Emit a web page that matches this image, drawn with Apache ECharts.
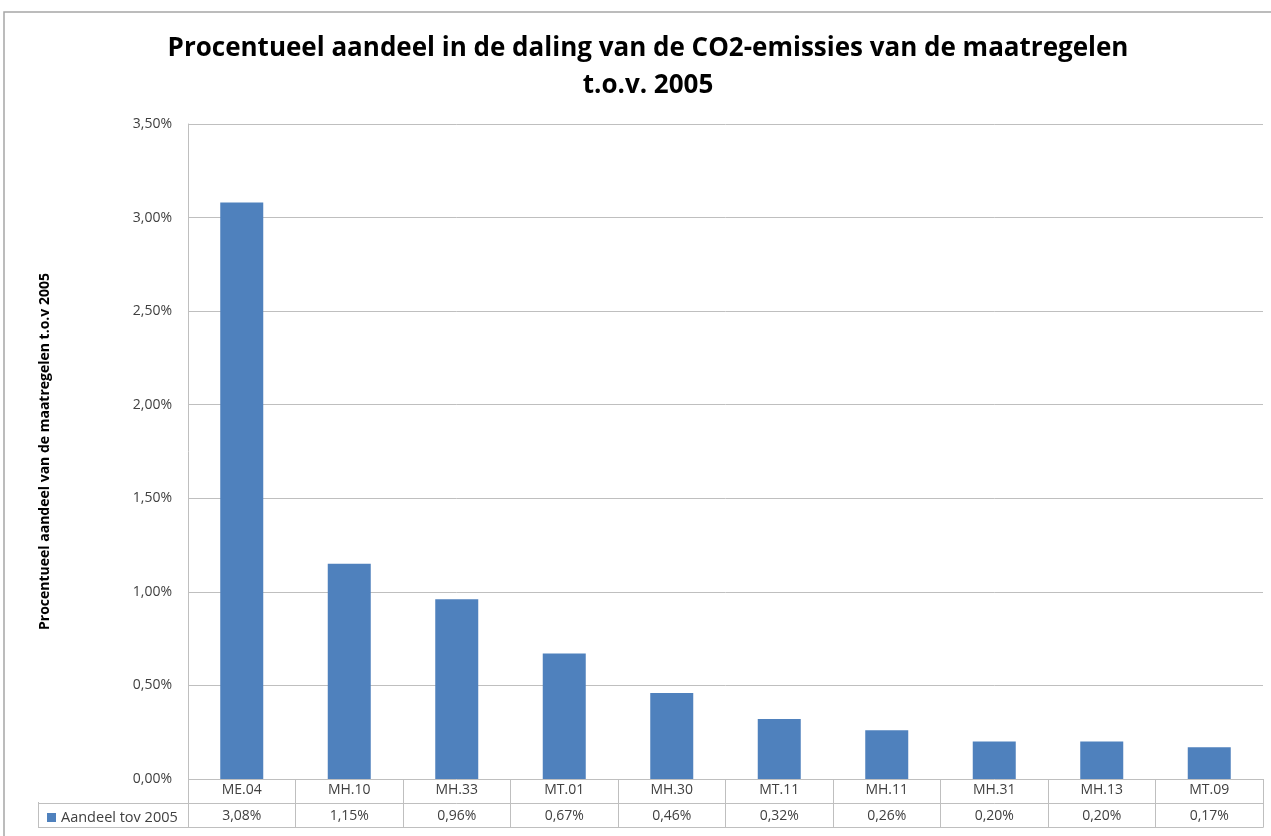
<!DOCTYPE html>
<html>
<head>
<meta charset="utf-8">
<title>Procentueel aandeel CO2</title>
<script src="https://cdn.jsdelivr.net/npm/echarts@6/dist/echarts.min.js"></script>
<style>
html,body{margin:0;padding:0;background:#fff;}
#main{width:1271px;height:836px;}
</style>
</head>
<body>
<div id="main"></div>
<script>
// maatregelen en hun aandeel (in %)
var categories = ['ME.04','MH.10','MH.33','MT.01','MH.30','MT.11','MH.11','MH.31','MH.13','MT.09'];
var aandeel = [3.08, 1.15, 0.96, 0.67, 0.46, 0.32, 0.26, 0.20, 0.20, 0.17];
var serieNaam = 'Aandeel tov 2005';
var yMax = 3.5;
var yStap = 0.5;

function pct(v){
	return v.toFixed(2).replace('.', ',') + '%';
}

var lijn = '#bfbfbf';
var tekst = '#404040';
var font = 'Open Sans';

var myChart = echarts.init(document.getElementById('main'));
var option = {
	backgroundColor: '#fff',
	animation: false,
	textStyle: { fontFamily: font },
	title: {
		text: 'Procentueel aandeel in de daling van de CO2-emissies van de maatregelen\nt.o.v. 2005',
		left: 643,
		top: 25,
		textAlign: 'center',
		textStyle: { fontFamily: font, fontSize: 26, fontWeight: 'bold', color: '#000', lineHeight: 37 }
	},
	legend: {
		data: [serieNaam],
		left: 42,
		top: 805,
		icon: 'rect',
		itemWidth: 9,
		itemHeight: 9,
		itemGap: 4,
		textStyle: { fontFamily: font, fontSize: 14.5, color: tekst }
	},
	graphic: [
		{ type: 'rect', shape: { x: 4, y: 12, width: 1300, height: 900 }, style: { fill: 'none', stroke: '#a6a6a6', lineWidth: 1.5 }, silent: true },
		{ type: 'line', shape: { x1: 38.5, y1: 802, x2: 38.5, y2: 827 }, style: { stroke: lijn, lineWidth: 1 }, silent: true }
	],
	grid: [
		{ left: 188, right: 8, top: 124, bottom: 57 },
		{ left: 188, right: 8, top: 779, height: 48 }
	],
	xAxis: [
		{
			gridIndex: 0, type: 'category', data: categories,
			axisLine: { show: false }, axisTick: { show: false }, axisLabel: { show: false }
		},
		{
			gridIndex: 1, type: 'category', data: categories, position: 'top',
			axisLine: { show: true, lineStyle: { color: lijn } },
			axisTick: { show: false },
			splitLine: { show: true, interval: 0, lineStyle: { color: lijn } },
			axisLabel: { inside: true, interval: 0, margin: 4, fontSize: 14, color: tekst, fontFamily: font }
		},
		{
			gridIndex: 1, type: 'category', data: categories, position: 'bottom',
			axisLine: { show: true, lineStyle: { color: lijn } },
			axisTick: { show: false },
			axisLabel: {
				inside: true, interval: 0, margin: 4, fontSize: 14, color: tekst, fontFamily: font,
				formatter: function (value, idx) { return pct(aandeel[idx]); }
			}
		}
	],
	yAxis: [
		{
			gridIndex: 0, type: 'value', min: 0, max: yMax, interval: yStap,
			name: 'Procentueel aandeel van de maatregelen t.o.v 2005',
			nameLocation: 'middle', nameGap: 136,
			nameTextStyle: { fontFamily: font, fontSize: 14, fontWeight: 'bold', color: '#000' },
			axisLine: { show: true, lineStyle: { color: lijn } },
			axisTick: { show: false },
			splitLine: { show: true, lineStyle: { color: lijn } },
			axisLabel: { margin: 16, fontSize: 14, color: tekst, fontFamily: font, formatter: function (v) { return pct(v); } }
		},
		{
			gridIndex: 1, type: 'value', min: 0, max: 2, interval: 1,
			axisLine: { show: false },
			axisLabel: { show: false },
			axisTick: { show: true, length: 150, customValues: [0, 1], lineStyle: { color: lijn } },
			splitLine: { show: true, lineStyle: { color: lijn } }
		}
	],
	series: [
		{
			name: serieNaam,
			type: 'bar',
			xAxisIndex: 0,
			yAxisIndex: 0,
			barWidth: '40%',
			itemStyle: { color: '#4f81bd' },
			data: aandeel
		}
	]
};
myChart.setOption(option, true);
</script>
</body>
</html>
